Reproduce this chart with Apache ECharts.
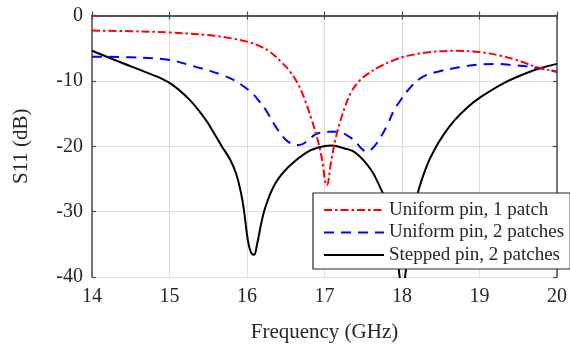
<!DOCTYPE html>
<html>
<head>
<meta charset="utf-8">
<script src="https://cdn.jsdelivr.net/npm/echarts@6/dist/echarts.min.js"></script>
<style>html,body{margin:0;padding:0;background:#fff}#c{width:570px;height:351px}</style>
</head>
<body>
<div id="c"></div>
<script>
const xTicks = [14, 15, 16, 17, 18, 19, 20];
const yTicks = [0, -10, -20, -30, -40];
const seriesNames = ['Uniform pin, 1 patch', 'Uniform pin, 2 patches', 'Stepped pin, 2 patches'];

const freqRed = [14, 14.5, 15, 15.5, 15.8, 16.0, 16.15, 16.3, 16.45, 16.55, 16.65, 16.75, 16.83, 16.9, 16.96, 17.03, 17.09, 17.14, 17.2, 17.27, 17.35, 17.45, 17.55, 17.7, 17.9, 18.1, 18.37, 18.68, 19.0, 19.25, 19.45, 19.6, 19.74, 20];
const s11Red = [-2.3, -2.4, -2.6, -3.0, -3.5, -4.0, -4.6, -5.6, -7.2, -8.5, -10.3, -13, -15.8, -18.5, -21.5, -26, -22, -19, -16.3, -13.8, -11.6, -10, -9, -7.9, -6.8, -6.1, -5.6, -5.4, -5.6, -6.1, -6.7, -7.3, -7.9, -8.6];

const freqBlue = [14, 14.5, 15, 15.26, 15.5, 15.68, 15.85, 15.94, 16.06, 16.15, 16.24, 16.37, 16.5, 16.6, 16.67, 16.78, 16.88, 16.97, 17.05, 17.18, 17.3, 17.4, 17.48, 17.54, 17.62, 17.73, 17.82, 17.9, 17.95, 18.08, 18.25, 18.46, 18.8, 19.0, 19.2, 19.44, 19.74, 20];
const s11Blue = [-6.3, -6.4, -6.8, -7.6, -8.4, -9.1, -10.0, -10.7, -11.8, -13, -14.4, -17, -19, -19.7, -19.8, -19.2, -18.2, -17.9, -17.8, -17.8, -18.4, -19.3, -20.4, -20.8, -20.3, -18.5, -16.5, -14.4, -13.5, -11.4, -9.5, -8.6, -7.8, -7.5, -7.4, -7.6, -8.0, -8.6];

const freqBlack = [14, 14.4, 14.7, 15, 15.26, 15.47, 15.55, 15.68, 15.78, 15.86, 15.92, 15.96, 16.01, 16.05, 16.09, 16.13, 16.18, 16.24, 16.37, 16.54, 16.76, 16.92, 17.09, 17.25, 17.4, 17.6, 17.73, 17.8, 17.88, 17.93, 17.97, 18.0, 18.04, 18.08, 18.14, 18.2, 18.32, 18.42, 18.55, 18.68, 18.85, 19.0, 19.32, 19.65, 19.83, 20];
const s11Black = [-5.4, -7.3, -8.7, -10.3, -12.9, -16, -17.5, -20.1, -22, -24.2, -27, -29.7, -34.3, -36.2, -36.6, -35, -32, -29.2, -25.6, -23.1, -21, -20.2, -19.9, -20.3, -21, -23.6, -26.6, -28.5, -32, -36, -40, -44, -40, -36, -31, -27.3, -23, -20.5, -18, -16, -14, -12.6, -10.3, -8.6, -7.9, -7.4];

const FONT = 'Liberation Serif';
const pairs = (xs, ys) => xs.map((x, i) => [x, ys[i]]);

const chart = echarts.init(document.getElementById('c'), null, {renderer: 'canvas'});
const axisLine = {show: true, lineStyle: {color: '#4d4d4d', width: 1.5}};
const tick = {show: true, inside: true, length: 4, lineStyle: {color: '#4d4d4d', width: 1.2}};
chart.setOption({
  animation: false,
  backgroundColor: '#fff',
  grid: {left: 92, right: 11, top: 15.5, bottom: 74, containLabel: false},
  xAxis: [{
    type: 'value', min: 14, max: 20, interval: 1, position: 'bottom',
    name: 'Frequency (GHz)', nameLocation: 'middle', nameGap: 45,
    nameTextStyle: {fontFamily: FONT, fontSize: 21, color: '#262626'},
    axisLine: axisLine, axisTick: tick,
    axisLabel: {fontFamily: FONT, fontSize: 20, color: '#262626', margin: 10,
      formatter: v => xTicks.includes(v) ? String(v) : ''},
    splitLine: {show: true, lineStyle: {color: '#dcdcdc', width: 1}}
  }, {
    type: 'value', min: 14, max: 20, interval: 1, position: 'top',
    axisLine: axisLine, axisTick: tick, axisLabel: {show: false}, splitLine: {show: false}
  }],
  yAxis: [{
    type: 'value', min: -40, max: 0, interval: 10, position: 'left',
    name: 'S11 (dB)', nameLocation: 'middle', nameGap: 60, nameRotate: 90,
    nameTextStyle: {fontFamily: FONT, fontSize: 21, color: '#262626'},
    axisLine: axisLine, axisTick: tick,
    axisLabel: {fontFamily: FONT, fontSize: 20, color: '#262626', margin: 9,
      formatter: v => yTicks.includes(v) ? String(v) : ''},
    splitLine: {show: true, lineStyle: {color: '#dcdcdc', width: 1}}
  }, {
    type: 'value', min: -40, max: 0, interval: 10, position: 'right',
    axisLine: axisLine, axisTick: tick, axisLabel: {show: false}, splitLine: {show: false}
  }],
  legend: {
    orient: 'vertical', left: 313, top: 193,
    width: 250,
    backgroundColor: '#fff', borderColor: '#262626', borderWidth: 1.2, borderRadius: 0,
    padding: [7, 6, 4, 10], itemGap: 2.5, itemWidth: 60, itemHeight: 20,
    itemStyle: {opacity: 0},
    textStyle: {fontFamily: FONT, fontSize: 19, color: '#262626', lineHeight: 20},
    data: seriesNames
  },
  series: [
    {name: seriesNames[0], type: 'line', data: pairs(freqRed, s11Red), symbol: 'none', showSymbol: false, smooth: 0.4,
     lineStyle: {color: '#ff0000', width: 2, type: [8, 3, 2.5, 3]}, itemStyle: {color: '#ff0000'}, z: 3},
    {name: seriesNames[1], type: 'line', data: pairs(freqBlue, s11Blue), symbol: 'none', showSymbol: false, smooth: 0.4,
     lineStyle: {color: '#0000ff', width: 2, type: [10, 7]}, itemStyle: {color: '#0000ff'}, z: 2},
    {name: seriesNames[2], type: 'line', data: pairs(freqBlack, s11Black), symbol: 'none', showSymbol: false, smooth: 0.4,
     lineStyle: {color: '#000000', width: 2}, itemStyle: {color: '#000000'}, z: 1}
  ]
});
</script>
</body>
</html>
